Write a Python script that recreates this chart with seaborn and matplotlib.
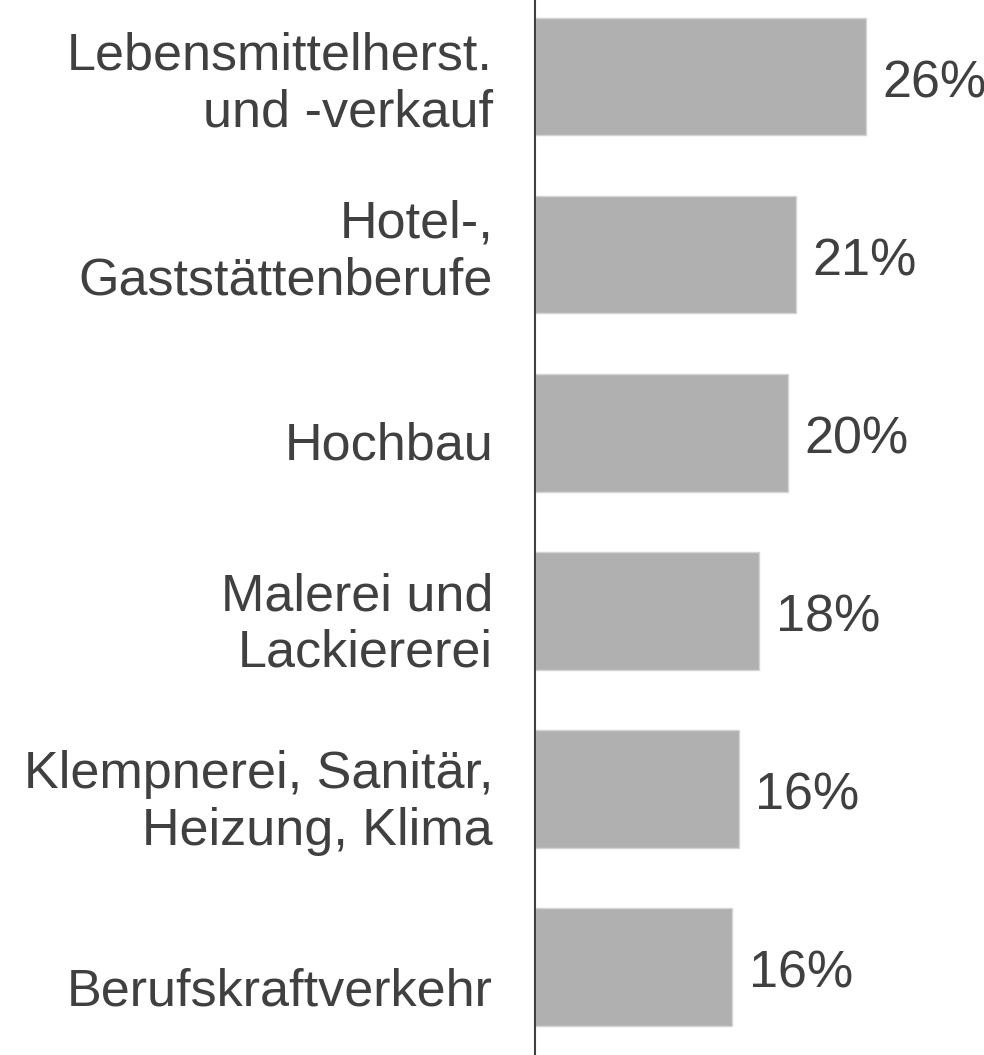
import pandas as pd
import matplotlib.pyplot as plt
import matplotlib.transforms as mtransforms
import seaborn as sns

# Data
categories = ["Lebensmittelherst.\nund -verkauf",
              "Hotel-,\nGaststättenberufe",
              "Hochbau",
              "Malerei und\nLackiererei",
              "Klempnerei, Sanitär,\nHeizung, Klima",
              "Berufskraftverkehr"]
shares = [26.0, 20.5, 19.9, 17.6, 16.0, 15.5]
value_labels = ["26%", "21%", "20%", "18%", "16%", "16%"]

df = pd.DataFrame({"Beruf": categories, "Anteil": shares})

sns.set_theme(style="white")
plt.rcParams['font.family'] = ['Liberation Sans', 'DejaVu Sans']
text_color = '#404040'
fs = 37.5

fig = plt.figure(figsize=(9.84, 10.55), dpi=100)
ax = fig.add_axes([0.5437, 0, 0.4563, 1])

sns.barplot(data=df, x="Anteil", y="Beruf", orient="h", color="#b0b0b0",
            saturation=1, width=0.66, edgecolor="#d4d4d4", linewidth=1, ax=ax)

ax.set_xlim(0, 35.3)
ax.set_ylim(5.494, -0.43)

# value labels next to the bars
anns = ax.bar_label(ax.containers[0], labels=value_labels, padding=12,
                    fontsize=fs, color=text_color)
for a in anns:
    a.xyann = (12, -5)

# category labels left of the axis (the original labels sit a bit low)
ax.set_yticks([])
ax.set_xticks([])
ax.set_xlabel("")
ax.set_ylabel("")
label_drop_px = [8, -2, 13, 14, 14, 25]
for i, cat in enumerate(categories):
    shift = mtransforms.ScaledTranslation(-42 / 100, -label_drop_px[i] / 100,
                                          fig.dpi_scale_trans)
    trans = mtransforms.blended_transform_factory(ax.transAxes, ax.transData) + shift
    ax.text(0, i, cat, transform=trans, ha="right", va="center",
            fontsize=fs, color=text_color, linespacing=1.2, multialignment="right")

for side in ["top", "right", "bottom"]:
    ax.spines[side].set_visible(False)
ax.spines["left"].set_color(text_color)
ax.spines["left"].set_linewidth(1.5)

fig.savefig("out.png", dpi=100)
